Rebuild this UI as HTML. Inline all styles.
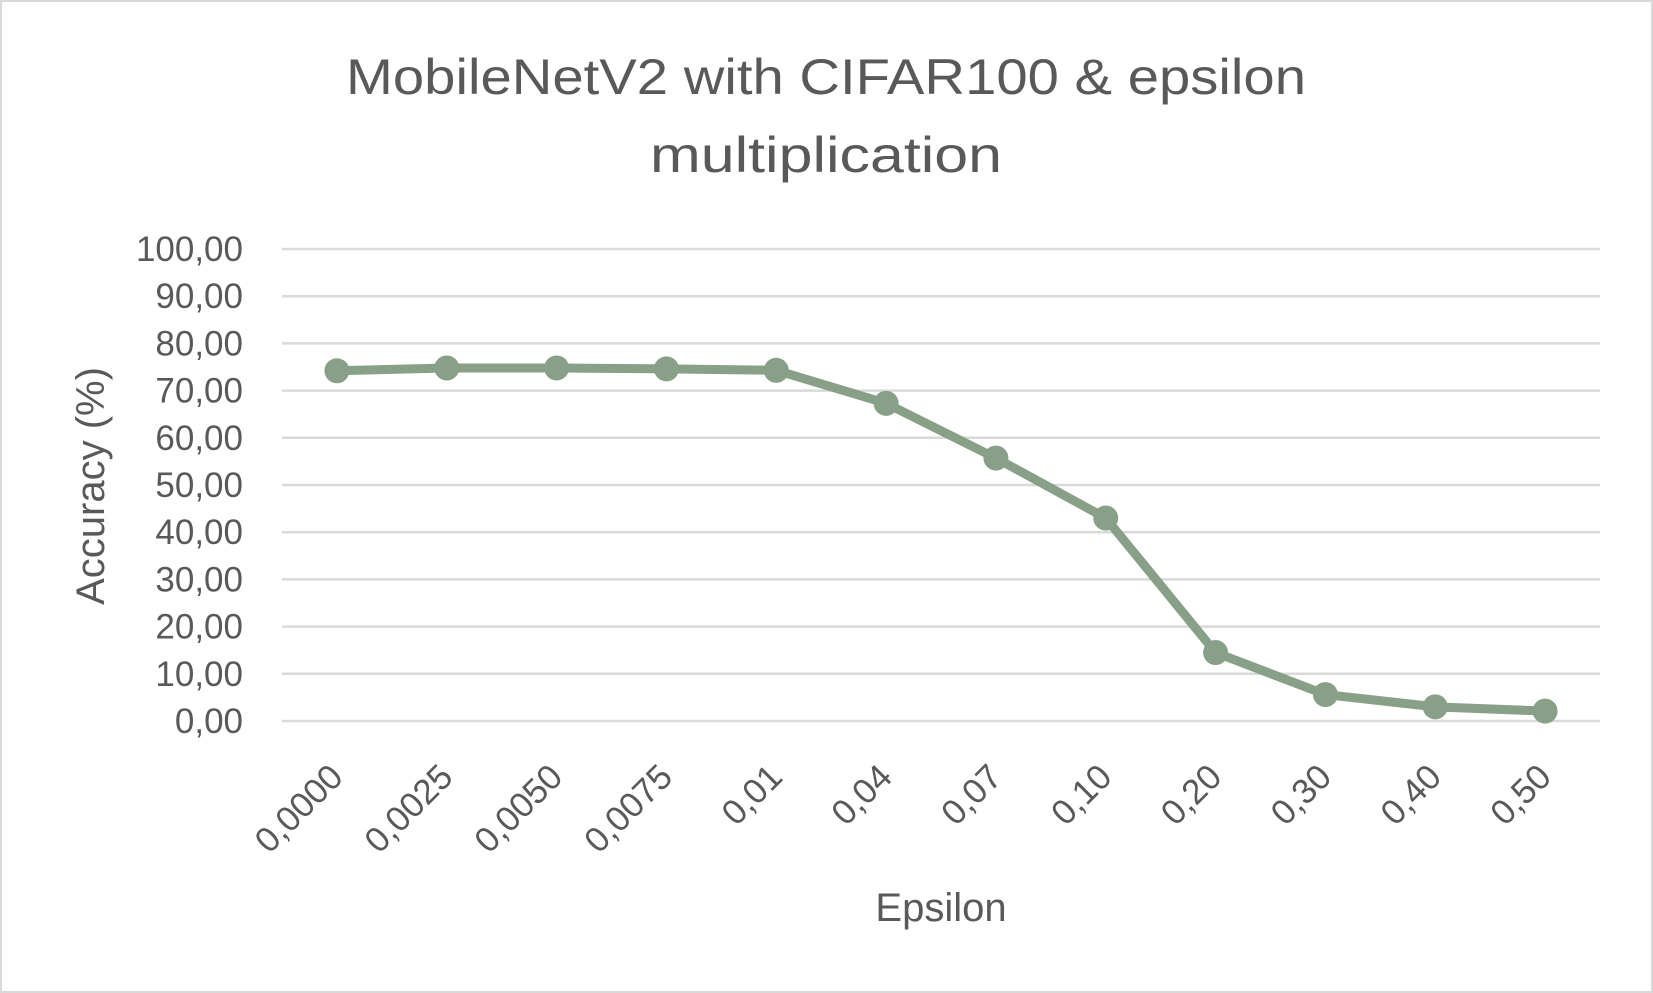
<!DOCTYPE html>
<html><head><meta charset="utf-8"><style>
html,body{margin:0;padding:0;background:#fff}
svg{display:block;font-family:"Liberation Sans",sans-serif}
</style></head><body>
<svg width="1653" height="993" viewBox="0 0 1653 993">
<rect x="1" y="1" width="1651" height="991" fill="#fff" stroke="#d9d9d9" stroke-width="2"/>
<text x="826" y="94" text-anchor="middle" font-size="50" fill="#595959" textLength="960" lengthAdjust="spacingAndGlyphs">MobileNetV2 with CIFAR100 &amp; epsilon</text>
<text x="826" y="172" text-anchor="middle" font-size="50" fill="#595959" textLength="352" lengthAdjust="spacingAndGlyphs">multiplication</text>
<g id="grid"></g><g id="ylabels"></g><g id="xlabels"></g><g id="series"></g>
<text transform="translate(104,486) rotate(-90)" text-anchor="middle" font-size="40" fill="#595959">Accuracy (%)</text>
<text x="941" y="921" text-anchor="middle" font-size="40" fill="#595959">Epsilon</text>
</svg>
<script>
const categories=["0,0000","0,0025","0,0050","0,0075","0,01","0,04","0,07","0,10","0,20","0,30","0,40","0,50"];
const accuracy=[74.2,74.8,74.8,74.6,74.3,67.3,55.7,43.0,14.5,5.6,3.0,2.1];
const yTicks=[0,10,20,30,40,50,60,70,80,90,100];
const NS="http://www.w3.org/2000/svg";
const L=282,R=1600,T=249,B=721;
const bw=(R-L)/categories.length;
const x=i=>L+bw*(i+0.5);
const y=v=>B-(v/100)*(B-T);
function mk(t,a,p){const e=document.createElementNS(NS,t);for(const k in a)e.setAttribute(k,a[k]);p.appendChild(e);return e;}
const g=document.getElementById('grid'),yl=document.getElementById('ylabels'),xl=document.getElementById('xlabels'),s=document.getElementById('series');
yTicks.forEach(v=>{
 const l=mk('line',{x1:L,x2:R,y1:y(v),y2:y(v),stroke:'#d9d9d9','stroke-width':2.5},g);
 
 
 const t=mk('text',{x:243,y:y(v)+12,'text-anchor':'end','font-size':35,fill:'#595959'},yl);
 t.textContent=v.toFixed(2).replace('.',',');
 
 
});
categories.forEach((c,i)=>{
 const t=mk('text',{transform:`translate(${x(i)+8},${y(0)+58}) rotate(-45)`,'text-anchor':'end','font-size':35,fill:'#595959'},xl);
 t.textContent=c;
 
 
});
const pl=mk('polyline',{points:accuracy.map((v,i)=>x(i)+','+y(v)).join(' '),fill:'none',stroke:'#87a087','stroke-width':9,'stroke-linejoin':'round'},s);


accuracy.forEach((v,i)=>{
 const c=mk('circle',{cx:x(i),cy:y(v),r:12.5,fill:'#87a087'},s);
 
 
});
</script>
</body></html>
